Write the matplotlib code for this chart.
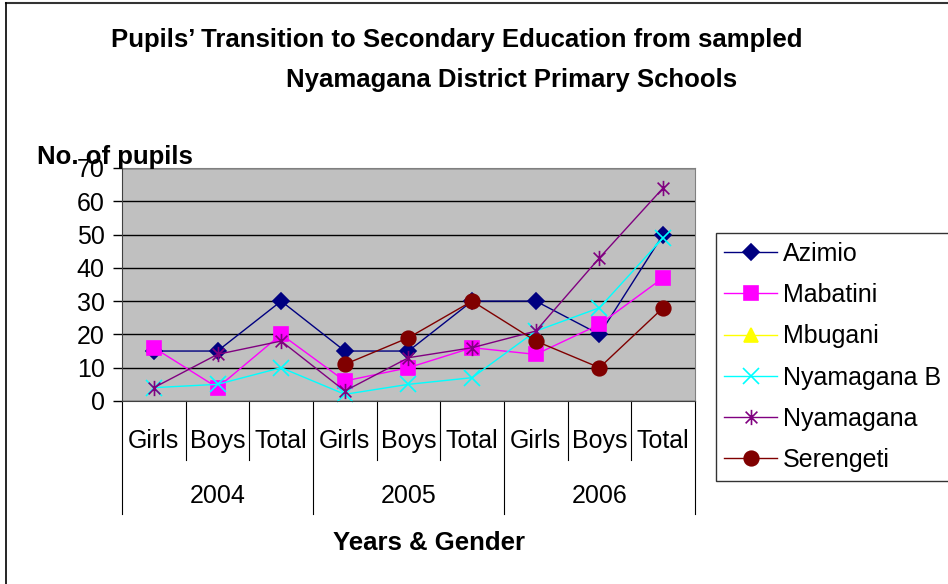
import numpy as np
import matplotlib
matplotlib.use("Agg")
import matplotlib.pyplot as plt
from matplotlib.path import Path
from matplotlib.transforms import blended_transform_factory

plt.rcParams['font.family'] = ['Liberation Sans', 'DejaVu Sans']

# categories
years = ["2004", "2005", "2006"]
genders = ["Girls", "Boys", "Total"]
cats = [g for y in years for g in genders]

# series values
azimio = [15, 15, 30, 15, 15, 30, 30, 20, 50]
mabatini = [16, 4, 20, 6, 10, 16, 14, 23, 37]
mbugani = [np.nan] * 9
nyamagana_b = [4, 5, 10, 2, 5, 7, 21, 28, 49]
nyamagana = [4, 14, 18, 3, 13, 16, 21, 43, 64]
serengeti = [np.nan, np.nan, np.nan, 11, 19, 30, 18, 10, 28]

# Excel style "star" marker: x plus a vertical bar
star = Path([(-1, -1), (1, 1), (-1, 1), (1, -1), (0, -1.3), (0, 1.3)],
            [Path.MOVETO, Path.LINETO, Path.MOVETO, Path.LINETO, Path.MOVETO, Path.LINETO])

series = [
    ("Azimio", azimio, "#000080", "D", 8.5),
    ("Mabatini", mabatini, "#FF00FF", "s", 10),
    ("Mbugani", mbugani, "#FFFF00", "^", 10),
    ("Nyamagana B", nyamagana_b, "#00FFFF", "x", 11),
    ("Nyamagana", nyamagana, "#800080", star, 11),
    ("Serengeti", serengeti, "#800000", "o", 10.5),
]

fs = 18
fsb = 18.5

fig = plt.figure(figsize=(9.48, 5.84), dpi=100)
ax = fig.add_axes([0.1287, 0.3134, 0.6044, 0.399])
ax.set_facecolor("#C0C0C0")

x = np.arange(len(cats))
for name, vals, col, mk, ms in series:
    ax.plot(x, vals, color=col, lw=1, marker=mk, markersize=ms,
            markerfacecolor=col, markeredgecolor=col, markeredgewidth=1.2,
            label=name, clip_on=False)

ax.set_xlim(-0.5, 8.5)
ax.set_ylim(0, 70)
ax.set_yticks(range(0, 71, 10))
ax.yaxis.grid(True, color="black", lw=1)
ax.set_axisbelow(True)
ax.tick_params(axis="y", labelsize=fs, length=6.5, width=1, direction="out", pad=6)
for s in ["top", "right"]:
    ax.spines[s].set_color("#808080")
ax.spines["left"].set_color("#404040")
ax.spines["bottom"].set_color("#404040")

# multi-level category axis
ax.set_xticks(x)
ax.set_xticklabels([])
ax.tick_params(axis="x", length=0)
tr = blended_transform_factory(ax.transData, ax.transAxes)
for i, c in enumerate(cats):
    ax.text(i, -0.172, c, transform=tr, ha="center", va="center", fontsize=fs)
for k in range(len(cats) + 1):
    xs = k - 0.5
    y0 = -0.485 if k % 3 == 0 else -0.253
    ax.plot([xs, xs], [0, y0], transform=tr, color="black", lw=0.8, clip_on=False)
for j, yr in enumerate(years):
    ax.text(3 * j + 1, -0.408, yr, transform=tr, ha="center", va="center", fontsize=fs)

fig.text(0.453, 0.071, "Years & Gender", ha="center", va="center",
         fontsize=fsb, fontweight="bold")
fig.text(0.039, 0.731, "No. of pupils", ha="left", va="center",
         fontsize=fsb, fontweight="bold")
fig.text(0.482, 0.932, "Pupils\u2019 Transition to Secondary Education from sampled",
         ha="center", va="center", fontsize=fsb, fontweight="bold")
fig.text(0.540, 0.863, "Nyamagana District Primary Schools",
         ha="center", va="center", fontsize=fsb, fontweight="bold")

leg = fig.legend(loc="upper left", bbox_to_anchor=(0.755, 0.601), fontsize=fs,
                 frameon=True, fancybox=False, edgecolor="black",
                 handlelength=2.1, labelspacing=0.69, borderpad=0.35,
                 handletextpad=0.25, borderaxespad=0)
leg.get_frame().set_linewidth(1)

# chart border (top and left)
fig.add_artist(plt.Line2D([0.006, 1], [0.995, 0.995], color="#333333", lw=1.5))
fig.add_artist(plt.Line2D([0.006, 0.006], [0, 0.995], color="black", lw=1.2))

fig.savefig("out.png", dpi=100)
